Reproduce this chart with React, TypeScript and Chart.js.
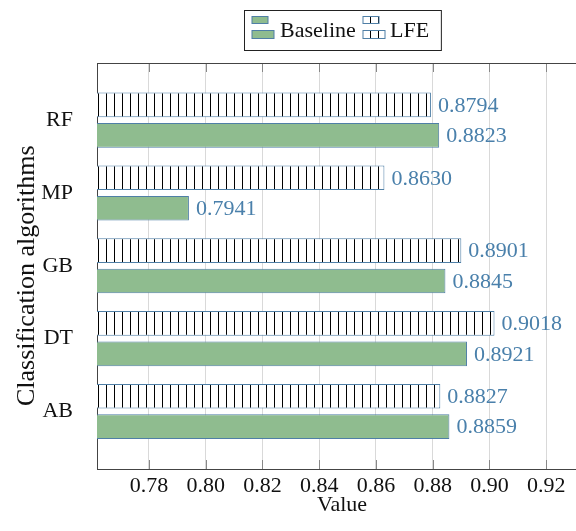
import React, { useEffect, useRef } from "react";
import { Chart, registerables } from "chart.js";

Chart.register(...registerables);

// Categories listed bottom-to-top (index 0 is at the bottom of the axis)
const CATEGORIES = ["AB", "DT", "GB", "MP", "RF"];
const BASELINE = [0.8859, 0.8921, 0.8845, 0.7941, 0.8823];
const LFE = [0.8827, 0.9018, 0.8901, 0.863, 0.8794];
const X_TICKS = [0.78, 0.8, 0.82, 0.84, 0.86, 0.88, 0.9, 0.92];
const SERIES_NAMES = ["Baseline", "LFE"];

const FAMILY = "'Liberation Serif', 'Times New Roman', serif";
const GREEN = "#8fbc8f";
const BAR_BORDER = "#4f7fa6";
const LABEL_BLUE = "#4a80ab";
const TEXT = "#111111";

function makeHatch(): CanvasPattern | string {
  const c = document.createElement("canvas");
  c.width = 8;
  c.height = 8;
  const g = c.getContext("2d");
  if (!g) return "#ffffff";
  g.fillStyle = "#ffffff";
  g.fillRect(0, 0, 8, 8);
  g.fillStyle = "#000000";
  g.fillRect(2, 0, 1, 8);
  const p = g.createPattern(c, "repeat");
  return p || "#ffffff";
}

const isListedTick = (v: number) => X_TICKS.some((t) => Math.abs(t - v) < 1e-9);

export default function App() {
  const ref = useRef<HTMLCanvasElement | null>(null);

  useEffect(() => {
    const canvas = ref.current;
    if (!canvas) return;
    const hatch = makeHatch();

    const frameAndTicks = {
      id: "frameAndTicks",
      afterDraw(chart: any) {
        const { ctx, chartArea } = chart;
        const xs = chart.scales.x;
        ctx.save();
        ctx.strokeStyle = "#888888";
        ctx.lineWidth = 1;
        for (const v of X_TICKS) {
          const px = Math.round(xs.getPixelForValue(v)) + 0.5;
          ctx.beginPath();
          ctx.moveTo(px, chartArea.bottom);
          ctx.lineTo(px, chartArea.bottom - 9);
          ctx.moveTo(px, chartArea.top);
          ctx.lineTo(px, chartArea.top + 9);
          ctx.stroke();
        }
        ctx.strokeStyle = "#444444";
        const y = Math.round(chartArea.top) + 0.5;
        ctx.beginPath();
        ctx.moveTo(chartArea.left, y);
        ctx.lineTo(chartArea.right, y);
        ctx.stroke();
        ctx.restore();
      },
    };

    const valueLabels = {
      id: "valueLabels",
      afterDatasetsDraw(chart: any) {
        const { ctx } = chart;
        ctx.save();
        ctx.font = `22px ${FAMILY}`;
        ctx.fillStyle = LABEL_BLUE;
        ctx.textBaseline = "middle";
        ctx.textAlign = "left";
        chart.data.datasets.forEach((ds: any, di: number) => {
          const meta = chart.getDatasetMeta(di);
          meta.data.forEach((el: any, i: number) => {
            const v = ds.data[i].x as number;
            ctx.fillText(v.toFixed(4), el.x + 7, el.y + 1);
          });
        });
        ctx.restore();
      },
    };

    const boxLegend = {
      id: "boxLegend",
      afterDraw(chart: any) {
        const { ctx, chartArea } = chart;
        ctx.save();
        ctx.font = `22px ${FAMILY}`;
        const wB = ctx.measureText(SERIES_NAMES[0]).width;
        const wL = ctx.measureText(SERIES_NAMES[1]).width;
        const boxW = 7 + 22 + 6 + wB + 7 + 22 + 5 + wL + 13;
        const cx = (chartArea.left + chartArea.right) / 2;
        const left = Math.round(cx - boxW / 2) + 0.5;
        const top = 10.5;
        const boxH = 40;
        ctx.fillStyle = "#ffffff";
        ctx.fillRect(left, top, boxW, boxH);
        ctx.strokeStyle = "#222222";
        ctx.lineWidth = 1;
        ctx.strokeRect(left, top, boxW, boxH);

        const drawIcon = (x: number, fill: any) => {
          ctx.fillStyle = fill;
          ctx.strokeStyle = BAR_BORDER;
          ctx.fillRect(x, top + 6, 16, 7);
          ctx.strokeRect(x, top + 6, 16, 7);
          ctx.fillRect(x, top + 20, 22, 8);
          ctx.strokeRect(x, top + 20, 22, 8);
        };
        let x = Math.round(left + 7);
        drawIcon(x, GREEN);
        x += 22 + 6;
        ctx.fillStyle = TEXT;
        ctx.textBaseline = "middle";
        ctx.fillText(SERIES_NAMES[0], x, top + boxH / 2 + 1);
        x = Math.round(x + wB + 7);
        drawIcon(x, hatch);
        x += 22 + 5;
        ctx.fillStyle = TEXT;
        ctx.fillText(SERIES_NAMES[1], x, top + boxH / 2 + 1);
        ctx.restore();
      },
    };

    const chart = new Chart(canvas, {
      type: "bar",
      data: {
        datasets: [
          {
            label: SERIES_NAMES[1],
            data: LFE.map((v, i) => ({ x: v, y: i })),
            backgroundColor: hatch as any,
            borderColor: BAR_BORDER,
            borderWidth: 1,
            borderSkipped: false,
            categoryPercentage: 0.836,
            barPercentage: 0.81,
          },
          {
            label: SERIES_NAMES[0],
            data: BASELINE.map((v, i) => ({ x: v, y: i })),
            backgroundColor: GREEN,
            borderColor: BAR_BORDER,
            borderWidth: 1,
            borderSkipped: false,
            categoryPercentage: 0.836,
            barPercentage: 0.81,
          },
        ],
      },
      options: {
        indexAxis: "y",
        responsive: false,
        animation: false,
        devicePixelRatio: 1,
        layout: { padding: { top: 63, right: 33, left: 0, bottom: 0 } },
        plugins: {
          legend: { display: false },
          tooltip: { enabled: false },
        },
        scales: {
          x: {
            type: "linear",
            min: 0.7617,
            max: 0.9344,
            afterBuildTicks: (s: any) => {
              s.ticks = X_TICKS.map((v) => ({ value: v }));
            },
            afterFit: (s: any) => {
              s.height = 62;
            },
            grid: {
              color: (c: any) =>
                c.tick && isListedTick(c.tick.value) ? "#d9d9d9" : "rgba(0,0,0,0)",
              drawTicks: false,
            },
            border: { color: "#444444", width: 1 },
            ticks: {
              padding: 4,
              color: TEXT,
              font: { family: FAMILY, size: 22 },
              callback: (v: any) => Number(v).toFixed(2),
            },
            title: {
              display: true,
              text: "Value",
              color: TEXT,
              font: { family: FAMILY, size: 22 },
              padding: { top: 0, bottom: 13 },
            },
          },
          y: {
            type: "linear",
            offset: false,
            min: -0.79,
            max: 4.785,
            afterBuildTicks: (s: any) => {
              s.ticks = CATEGORIES.map((_, i) => ({ value: i }));
            },
            afterFit: (s: any) => {
              s.width = 97;
            },
            grid: { display: false, drawTicks: false, offset: false },
            border: { color: "#444444", width: 1 },
            ticks: {
              padding: 24,
              color: TEXT,
              font: { family: FAMILY, size: 22 },
              callback: (v: any) => CATEGORIES[Math.round(Number(v))] ?? "",
            },
            title: {
              display: true,
              text: "Classification algorithms   ",
              color: TEXT,
              font: { family: FAMILY, size: 26 },
              padding: { top: 12, bottom: 0 },
            },
          },
        },
      } as any,
      plugins: [frameAndTicks, valueLabels, boxLegend],
    });

    return () => chart.destroy();
  }, []);

  return (
    <div
      style={{
        position: "fixed",
        left: 0,
        top: 0,
        width: 576,
        height: 531,
        overflow: "hidden",
        background: "#ffffff",
      }}
    >
      <canvas ref={ref} width={620} height={531} style={{ display: "block" }} />
    </div>
  );
}
